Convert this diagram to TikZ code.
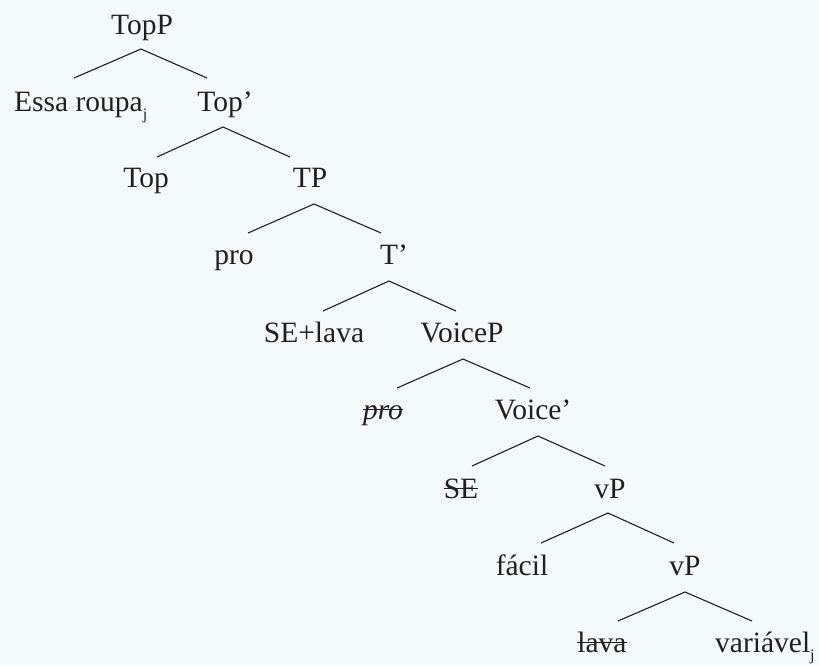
\documentclass[tikz,border=0pt]{standalone}
\usepackage{fontspec}
\setmainfont{Liberation Serif}
\definecolor{ink}{HTML}{231F20}
\definecolor{paper}{HTML}{F4F9FA}
\tikzset{
  lab/.style={inner sep=0pt, anchor=base, text=ink, font=\fontsize{29.5}{32}\selectfont},
  branch/.style={draw=ink, line width=1.1pt, line join=miter},
  struck/.style={draw=ink, line width=1pt}
}
% lowered index letter (coindexation)
\newcommand{\lowidx}[1]{\raisebox{-8pt}{\fontsize{16}{16}\selectfont #1}}
% line through a named node, as for deleted copies
\newcommand{\strikenode}[1]{\draw[struck] ([yshift=10pt]#1.base west) -- ([yshift=10pt]#1.base east);}

\begin{document}
\begin{tikzpicture}[x=1pt,y=-1pt]
  \fill[paper] (0,0) rectangle (819,665);
  \useasboundingbox (0,0) rectangle (819,665);

  % labels
  \node[lab] (topp)   at (142,34)  {TopP};
  \node[lab, anchor=base west] (essa) at (14,111) {Essa roupa\lowidx{j}};
  \node[lab] (topbar) at (225,111) {Top’};
  \node[lab] (top)    at (146,187) {Top};
  \node[lab] (tp)     at (310,187) {TP};
  \node[lab] (pro)    at (234,264) {pro};
  \node[lab] (tbar)   at (394,264) {T’};
  \node[lab] (selava) at (314,342) {SE+lava};
  \node[lab] (voicep) at (462,342) {VoiceP};
  \node[lab] (prodel) at (383,419) {\itshape pro};
  \node[lab] (voicebar) at (533,419) {Voice’};
  \node[lab] (sedel)  at (461,498) {SE};
  \node[lab] (vpa)    at (610,498) {vP};
  \node[lab] (facil)  at (522,575) {fácil};
  \node[lab] (vpb)    at (685,575) {vP};
  \node[lab] (lavadel) at (602,652) {lava};
  \node[lab, anchor=base west] (variavel) at (715,652) {variável\lowidx{j}};

  % deleted copies
  \strikenode{prodel}
  \strikenode{sedel}
  \strikenode{lavadel}

  % branch points: apex under each mother, feet above the daughters
  \coordinate (topp-a)   at (141,49);  \coordinate (topp-l)   at (74,78);   \coordinate (topp-r)   at (207,78);
  \coordinate (topbar-a) at (223,127); \coordinate (topbar-l) at (157,157); \coordinate (topbar-r) at (290,157);
  \coordinate (tp-a)     at (314,204); \coordinate (tp-l)     at (248,233); \coordinate (tp-r)     at (381,233);
  \coordinate (tbar-a)   at (389,281); \coordinate (tbar-l)   at (323,311); \coordinate (tbar-r)   at (456,311);
  \coordinate (voicep-a) at (463,359); \coordinate (voicep-l) at (397,388); \coordinate (voicep-r) at (530,388);
  \coordinate (voicebar-a) at (538,436); \coordinate (voicebar-l) at (472,466); \coordinate (voicebar-r) at (605,466);
  \coordinate (vpa-a)    at (608,513); \coordinate (vpa-l)    at (541,543); \coordinate (vpa-r)    at (674,543);
  \coordinate (vpb-a)    at (685,592); \coordinate (vpb-l)    at (618,621); \coordinate (vpb-r)    at (752,621);

  \foreach \m in {topp,topbar,tp,tbar,voicep,voicebar,vpa,vpb}
    \draw[branch] (\m-l) -- (\m-a) -- (\m-r);
\end{tikzpicture}
\end{document}
